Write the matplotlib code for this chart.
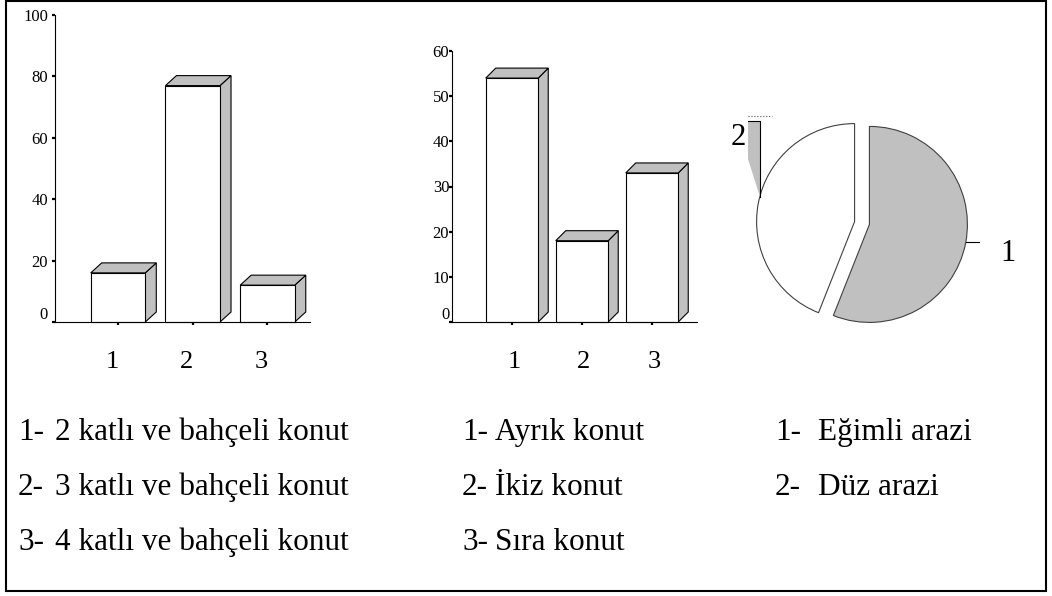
import numpy as np
import matplotlib
matplotlib.use("Agg")
import matplotlib.pyplot as plt
from matplotlib.patches import Rectangle, Polygon
from matplotlib.transforms import ScaledTranslation

plt.rcParams['font.family'] = ['Liberation Serif', 'DejaVu Serif']

# konut tipi (kat sayisi), %
floor_cats = ['1', '2', '3']
floor_pct = [16, 77, 12]
floor_legend = ['2 katlı ve bahçeli konut', '3 katlı ve bahçeli konut', '4 katlı ve bahçeli konut']

# konut duzeni, %
layout_cats = ['1', '2', '3']
layout_pct = [54, 18, 33]
layout_legend = ['Ayrık konut', 'İkiz konut', 'Sıra konut']

# arazi yapisi, %
land_cats = ['1', '2']
land_pct = [56, 44]
land_legend = ['Eğimli arazi', 'Düz arazi']

GREY = '#c0c0c0'
W, H = 1052, 596
fig = plt.figure(figsize=(W / 100, H / 100), dpi=100)


def px_axes(left, top, right, bottom):
    # axes placed by pixel edges, y counted from the top
    return fig.add_axes([left / W, 1 - bottom / H, (right - left) / W, (bottom - top) / H])


def shift(dx_px, dy_px):
    return ScaledTranslation(dx_px / 100, dy_px / 100, fig.dpi_scale_trans)


def bar3d(ax, cats, values, xlim, ylim, yticks, width, depth_px, ypad, label_dx):
    x = np.arange(1, len(values) + 1)
    ax.set_xlim(*xlim)
    ax.set_ylim(*ylim)
    ax.patch.set_visible(False)
    for s in ['top', 'right']:
        ax.spines[s].set_visible(False)
    for s in ['left', 'bottom']:
        ax.spines[s].set_linewidth(0.8)
    ax.set_xticks(x)
    ax.set_xticklabels(cats)
    ax.set_yticks(yticks)
    ax.tick_params(axis='y', length=2, width=1.6, pad=ypad, labelsize=12)
    ax.tick_params(axis='x', length=2, width=1.6, pad=19, labelsize=19)
    for lab in ax.get_xticklabels():
        lab.set_transform(lab.get_transform() + shift(label_dx, 0))
    zero = ax.get_yticklabels()[0]
    zero.set_transform(zero.get_transform() + shift(0, 9))

    # depth of the box in data units
    p0 = ax.transData.transform((0, 0))
    dx, dy = ax.transData.inverted().transform(p0 + np.array(depth_px))
    for xi, h in zip(x, values):
        xl, xr = xi - width / 2, xi + width / 2
        side = Polygon([(xr, 0), (xr + dx, dy), (xr + dx, h + dy), (xr, h)],
                       closed=True, fc=GREY, ec='black', lw=0.8, clip_on=False)
        top = Polygon([(xl, h), (xl + dx, h + dy), (xr + dx, h + dy), (xr, h)],
                      closed=True, fc=GREY, ec='black', lw=0.8, clip_on=False)
        front = Rectangle((xl, 0), width, h, fc='white', ec='black', lw=0.8, clip_on=False)
        ax.add_patch(side)
        ax.add_patch(top)
        ax.add_patch(front)


ax1 = px_axes(55, 15, 310, 322)
bar3d(ax1, floor_cats, floor_pct, (0.157, 3.569), (0, 100), [0, 20, 40, 60, 80, 100],
      0.73, (11, 10), 3, -6)

ax2 = px_axes(452, 51, 697, 322)
bar3d(ax2, layout_cats, layout_pct, (0.143, 3.643), (0, 60), [0, 10, 20, 30, 40, 50, 60],
      0.75, (10, 10), 0, 2)

# pie: centre at (862, 223) px, radius 98 px
R_PX = 98
pax = px_axes(862 - 160, 223 - 160, 862 + 160, 223 + 160)
wedges, _ = pax.pie(land_pct, colors=[GREY, 'white'], startangle=90, counterclock=False,
                    explode=[0.077, 0.077], radius=1,
                    wedgeprops=dict(edgecolor='#404040', linewidth=0.8))
lim = 160 / R_PX
pax.set_xlim(-lim, lim)
pax.set_ylim(-lim, lim)
pax.set_aspect('equal')
pax.axis('off')

# label 1 with a short horizontal leader
w1 = wedges[0]
a1 = np.deg2rad(-10.5)
ax_, ay_ = w1.center[0] + np.cos(a1) * w1.r, w1.center[1] + np.sin(a1) * w1.r
pax.plot([ax_, ax_ + 0.14], [ay_, ay_], color='black', lw=0.8)
pax.text(1.49, -0.388, land_cats[0], fontsize=22, ha='center', va='baseline')

# label 2 with its leader strip
w2 = wedges[1]
a2 = np.deg2rad(165.7)
bx, by = w2.center[0] + np.cos(a2) * w2.r, w2.center[1] + np.sin(a2) * w2.r
strip = [(bx, by), (bx, by + 0.776), (bx - 0.122, by + 0.776), (bx - 0.122, by + 0.388)]
pax.add_patch(Polygon(strip, closed=True, fc=GREY, ec='none'))
pax.plot([bx - 0.122, bx, bx], [by + 0.776, by + 0.776, by], color='black', lw=0.8)
pax.plot([bx - 0.122, bx + 0.123], [by + 0.827, by + 0.827], color='#555555', lw=0.8, ls=':')
pax.text(-1.26, 0.796, land_cats[1], fontsize=22, ha='center', va='baseline')

# numbered legends under the charts
rows = [440, 495, 550]
columns = [(18, 55, floor_legend), (462, 495, layout_legend), (775, 818, land_legend)]
for num_x, lab_x, labels in columns:
    for i, lab in enumerate(labels):
        y = 1 - rows[i] / H
        fig.text(num_x / W, y, f'{i + 1}-', fontsize=22.5, va='baseline')
        fig.text(lab_x / W, y, lab, fontsize=22.5, va='baseline')

# outer frame
fig.add_artist(Rectangle((6 / W, 1 - 591 / H), 1040 / W, 590 / H, transform=fig.transFigure,
                         fill=False, ec='black', lw=1.5))

fig.savefig('out.png', dpi=100)
